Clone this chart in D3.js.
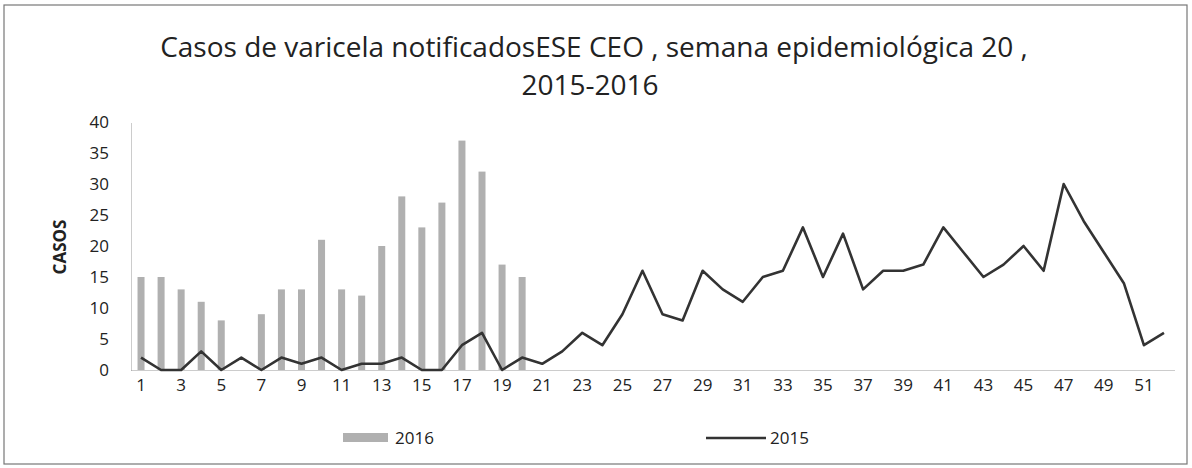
<!DOCTYPE html>
<html>
<head>
<meta charset="utf-8">
<script src="https://cdn.jsdelivr.net/npm/d3@7"></script>
<style>
  body { margin: 0; background: #fff; }
  svg { display: block; }
  text { font-family: "Open Sans", "DejaVu Sans", sans-serif; fill: #222; }
</style>
</head>
<body>
<svg id="chart" width="1192" height="468"></svg>
<script>
// ---- datos ----
const weeks = d3.range(1, 53);
const casos2016 = [15, 15, 13, 11, 8, 0, 9, 13, 13, 21, 13, 12, 20, 28, 23, 27, 37, 32, 17, 15];
const casos2015 = [2, 0, 0, 3, 0, 2, 0, 2, 1, 2, 0, 1, 1, 2, 0, 0, 4, 6, 0, 2,
                   1, 3, 6, 4, 9, 16, 9, 8, 16, 13, 11, 15, 16, 23, 15, 22, 13, 16, 16, 17,
                   23, 19, 15, 17, 20, 16, 30, 24, 19, 14, 4, 6];
const yTicks = [0, 5, 10, 15, 20, 25, 30, 35, 40];
const xTickLabels = weeks.filter(w => w % 2 === 1);
const titulo = ['Casos de varicela notificadosESE CEO , semana epidemiológica 20 ,', '2015-2016'];

// ---- layout ----
const W = 1192, H = 468;
const plot = { left: 131, right: 1174, top: 122, bottom: 370 };

const svg = d3.select('#chart');

// borde exterior
svg.append('rect')
  .attr('x', 4).attr('y', 5).attr('width', W - 9).attr('height', H - 9)
  .attr('fill', 'none').attr('stroke', '#777').attr('stroke-width', 1.2);

const x = d3.scaleBand().domain(weeks).range([plot.left, plot.right]);
const y = d3.scaleLinear().domain([0, 40]).range([plot.bottom, plot.top]);

// titulo
svg.append('text')
  .attr('x', 594).attr('y', 57).attr('text-anchor', 'middle')
  .attr('font-size', 28).text(titulo[0]);
svg.append('text')
  .attr('x', 590).attr('y', 95).attr('text-anchor', 'middle')
  .attr('font-size', 28).text(titulo[1]);

// barras 2016
const bw = 7;
svg.append('g').selectAll('rect')
  .data(casos2016.map((v, i) => ({ w: i + 1, v })))
  .join('rect')
  .attr('x', d => x(d.w) + x.bandwidth() / 2 - bw / 2)
  .attr('y', d => y(d.v))
  .attr('width', bw)
  .attr('height', d => y(0) - y(d.v))
  .attr('fill', '#b0b0b0');

// eje y
const yAxis = svg.append('g')
  .attr('transform', `translate(${plot.left},0)`)
  .call(d3.axisLeft(y).tickValues(yTicks).tickSize(0).tickPadding(22));
yAxis.select('.domain').attr('stroke', '#999').attr('stroke-dasharray', '1,1');
yAxis.selectAll('text').attr('font-size', 17).attr('fill', '#222')
  .attr('font-family', '"Open Sans", sans-serif');

// eje x
const xAxis = svg.append('g')
  .attr('transform', `translate(0,${plot.bottom})`)
  .call(d3.axisBottom(x).tickValues(xTickLabels).tickSize(0).tickPadding(9));
xAxis.select('.domain').attr('stroke', '#999').attr('stroke-dasharray', '1,1');
xAxis.selectAll('text').attr('font-size', 17).attr('fill', '#222')
  .attr('font-family', '"Open Sans", sans-serif');

// linea 2015
const line = d3.line()
  .x((d, i) => x(weeks[i]) + x.bandwidth() / 2)
  .y(d => y(d));
svg.append('path')
  .datum(casos2015)
  .attr('d', line)
  .attr('fill', 'none')
  .attr('stroke', '#333')
  .attr('stroke-width', 2.6)
  .attr('stroke-linejoin', 'round');

// titulo eje y
svg.append('text')
  .attr('transform', 'translate(66,247) rotate(-90)')
  .attr('text-anchor', 'middle')
  .attr('font-size', 17).attr('font-weight', 'bold')
  .text('CASOS');

// leyenda
const leg = svg.append('g');
leg.append('rect').attr('x', 343).attr('y', 433).attr('width', 45).attr('height', 9)
  .attr('fill', '#b0b0b0');
leg.append('text').attr('x', 395).attr('y', 444).attr('font-size', 17).text('2016');
leg.append('line').attr('x1', 706).attr('x2', 766).attr('y1', 438).attr('y2', 438)
  .attr('stroke', '#333').attr('stroke-width', 2.6);
leg.append('text').attr('x', 770).attr('y', 444).attr('font-size', 17).text('2015');
</script>
</body>
</html>
